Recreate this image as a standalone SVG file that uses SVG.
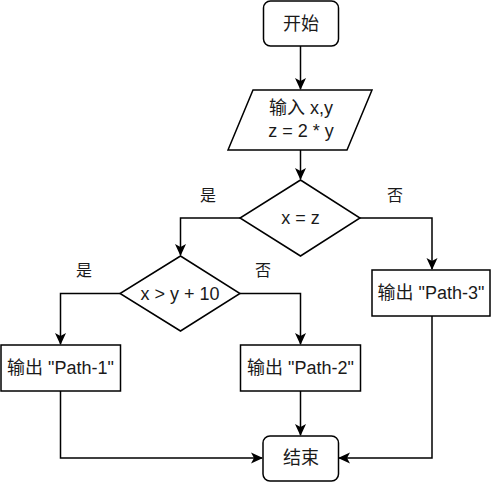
<svg xmlns="http://www.w3.org/2000/svg" width="494" height="483" viewBox="0 0 494 483">
<style>
.n{fill:#fff;stroke:#000;stroke-width:1.5}
.t{font-family:"Liberation Sans","Noto Sans CJK SC",sans-serif;font-size:18px;fill:#1a1a1a;text-anchor:middle;dominant-baseline:central}
.l{font-family:"Liberation Sans","Noto Sans CJK SC",sans-serif;font-size:16px;fill:#1a1a1a;text-anchor:middle;dominant-baseline:central}
.e{fill:none;stroke:#000;stroke-width:1.5;marker-end:url(#a)}
</style>
<defs>
<marker id="a" viewBox="0 0 12 12" refX="11" refY="6" markerWidth="12" markerHeight="12" markerUnits="userSpaceOnUse" orient="auto">
<path d="M0,0.5 L12,6 L0,11.5 L3,6 Z" fill="#000"/>
</marker>
</defs>
<rect width="494" height="483" fill="#fff"/>
<g id="edges">
<path class="e" d="M300.5,46 V89"/>
<path class="e" d="M300.5,150 V179"/>
<path class="e" d="M240,218 H180.5 V255"/>
<path class="e" d="M360,218 H432 V269"/>
<path class="e" d="M120,293.5 H60.5 V344"/>
<path class="e" d="M240,293.5 H300.5 V344"/>
<path class="e" d="M60.5,391 V458 H262"/>
<path class="e" d="M300.5,391 V435"/>
<path class="e" d="M432,316 V458 H339"/>
<text class="l" x="208" y="195">是</text>
<text class="l" x="395" y="195">否</text>
<text class="l" x="84" y="270">是</text>
<text class="l" x="263" y="270">否</text>
</g>
<g id="start">
<rect class="n" x="263.5" y="1" width="75" height="45" rx="7"/>
<text class="t" x="301" y="23.5">开始</text>
</g>
<g id="input">
<polygon class="n" points="253,90 372,90 347,150 228,150"/>
<text class="t" x="301" y="108">输入 x,y</text>
<text class="t" x="301" y="131">z = 2 * y</text>
</g>
<g id="dec1">
<polygon class="n" points="300.5,180 360,218 300.5,256 240,218"/>
<text class="t" x="300.5" y="218">x = z</text>
</g>
<g id="dec2">
<polygon class="n" points="180.5,256 240,293.5 180.5,331 120,293.5"/>
<text class="t" x="180" y="293.5">x &gt; y + 10</text>
</g>
<g id="path3">
<rect class="n" x="372" y="270" width="118" height="46"/>
<text class="t" x="431" y="293">输出 "Path-3"</text>
</g>
<g id="path1">
<rect class="n" x="1" y="345" width="119.5" height="46"/>
<text class="t" x="60.5" y="368">输出 "Path-1"</text>
</g>
<g id="path2">
<rect class="n" x="240.5" y="345" width="120" height="46"/>
<text class="t" x="300.5" y="368">输出 "Path-2"</text>
</g>
<g id="end">
<rect class="n" x="263" y="436" width="75.5" height="45" rx="7"/>
<text class="t" x="301" y="458">结束</text>
</g>
</svg>
